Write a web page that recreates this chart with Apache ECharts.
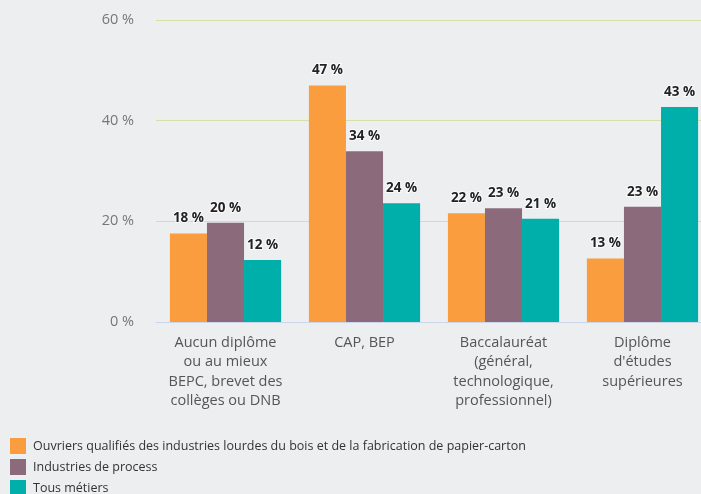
<!DOCTYPE html>
<html>
<head>
<meta charset="utf-8">
<script src="https://cdn.jsdelivr.net/npm/echarts@6/dist/echarts.min.js"></script>
<style>
  html, body { margin: 0; padding: 0; background: #edeef0; }
  #chart { width: 701px; height: 494px; }
</style>
</head>
<body>
<div id="chart"></div>
<script>
const categories = [
  'Aucun diplôme\nou au mieux\nBEPC, brevet des\ncollèges ou DNB',
  'CAP, BEP',
  'Baccalauréat\n(général,\ntechnologique,\nprofessionnel)',
  'Diplôme\nd\'études\nsupérieures'
]
const seriesNames = [
  'Ouvriers qualifiés des industries lourdes du bois et de la fabrication de papier-carton',
  'Industries de process',
  'Tous métiers'
]
const ouvriers = [17.6, 47.0, 21.6, 12.6]
const process = [19.7, 33.9, 22.6, 22.9]
const tousMetiers = [12.3, 23.6, 20.5, 42.7]
const yTicks = [0, 20, 40, 60]

const colors = ['#f99d3e', '#8b6b7b', '#00aeaa']
const font = '"Open Sans", sans-serif'

const chart = echarts.init(document.getElementById('chart'))

const barLabel = {
  show: true,
  position: 'top',
  distance: 8,
  fontFamily: font,
  fontSize: 13.5,
  fontWeight: 'bold',
  color: '#222',
  textBorderColor: 'rgba(255,255,255,0.8)',
  textBorderWidth: 2,
  formatter: p => Math.round(p.value) + ' %'
}

chart.setOption({
  backgroundColor: '#edeef0',
  animation: false,
  textStyle: { fontFamily: font },
  legend: {
    orient: 'vertical',
    left: 10,
    top: 438,
    height: 60,
    padding: 0,
    itemWidth: 16,
    itemHeight: 16,
    itemGap: 5,
    icon: 'rect',
    textStyle: { fontFamily: font, fontSize: 12.5, color: '#333', padding: [0, 0, 0, 2] },
    data: seriesNames
  },
  grid: { left: 156, width: 556, top: 20, bottom: 172, containLabel: false, outerBoundsMode: 'none' },
  xAxis: {
    type: 'category',
    data: categories,
    axisLine: { lineStyle: { color: '#ccd6eb' } },
    axisTick: { show: false },
    axisLabel: {
      interval: 0,
      fontFamily: font,
      fontSize: 14.5,
      color: '#555',
      lineHeight: 19.5,
      margin: 11
    }
  },
  yAxis: {
    type: 'value',
    min: yTicks[0],
    max: yTicks[yTicks.length - 1],
    interval: 20,
    axisLine: { show: false },
    axisTick: { show: false },
    splitLine: { lineStyle: { color: '#d5e0a5', width: 1 } },
    axisLabel: {
      fontFamily: font,
      fontSize: 14.5,
      color: '#777',
      margin: 22,
      formatter: v => v + ' %'
    }
  },
  series: [
    { name: seriesNames[0], type: 'bar', data: ouvriers, barGap: '0%', barCategoryGap: '20%', itemStyle: { color: colors[0] }, label: barLabel },
    { name: seriesNames[1], type: 'bar', data: process, itemStyle: { color: colors[1] }, label: barLabel },
    { name: seriesNames[2], type: 'bar', data: tousMetiers, itemStyle: { color: colors[2] }, label: barLabel }
  ]
})
</script>
</body>
</html>
